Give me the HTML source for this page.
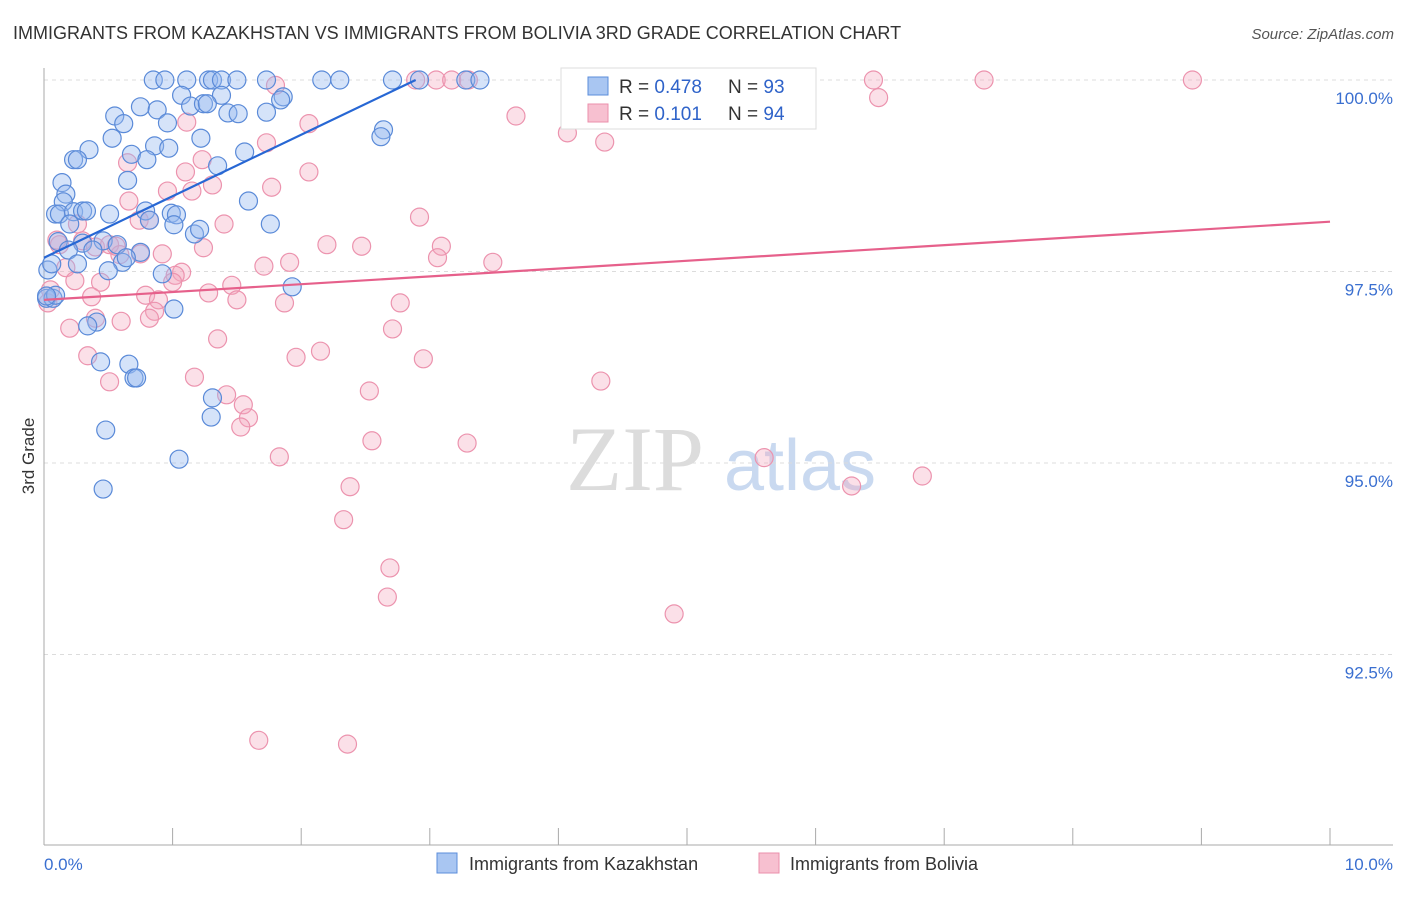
<!DOCTYPE html>
<html><head><meta charset="utf-8"><style>
body{margin:0;background:#fff;font-family:"Liberation Sans",sans-serif;}
</style></head><body>
<svg width="1406" height="892" viewBox="0 0 1406 892" xmlns="http://www.w3.org/2000/svg">
<text x="13" y="39" font-size="18" fill="#333">IMMIGRANTS FROM KAZAKHSTAN VS IMMIGRANTS FROM BOLIVIA 3RD GRADE CORRELATION CHART</text>
<text x="1394" y="39" font-size="15" fill="#555" font-style="italic" text-anchor="end">Source: ZipAtlas.com</text>
<g>
<text x="635" y="490" font-size="92" fill="#dcdcdc" font-family="Liberation Serif,serif" text-anchor="middle">ZIP</text>
<text x="800" y="490" font-size="72" fill="#c9d9f0" text-anchor="middle">atlas</text>
</g>
<g id="grid"></g>
<g id="axes"></g>
<g id="pts"></g>
<g id="trends"></g>
<text transform="translate(34,456) rotate(-90)" font-size="17" fill="#333" text-anchor="middle">3rd Grade</text>
<text x="44" y="870" font-size="17" fill="#3a6fd0">0.0%</text>
<text x="1393" y="870" font-size="17" fill="#3a6fd0" text-anchor="end">10.0%</text>
<g>
<rect x="561" y="68" width="255" height="61" fill="#fff" stroke="#ddd"/>
<rect x="588" y="77" width="20" height="18" fill="#a9c6f2" stroke="#5b8ddb"/>
<rect x="588" y="104" width="20" height="18" fill="#f7c0d0" stroke="#eb8fab"/>
<text x="619" y="93" font-size="19" fill="#333">R = <tspan fill="#2f63c9">0.478</tspan></text>
<text x="728" y="93" font-size="19" fill="#333">N = <tspan fill="#2f63c9">93</tspan></text>
<text x="619" y="120" font-size="19" fill="#333">R = <tspan fill="#2f63c9"> 0.101</tspan></text>
<text x="728" y="120" font-size="19" fill="#333">N = <tspan fill="#2f63c9">94</tspan></text>
</g>
<g>
<rect x="437" y="853" width="20" height="20" fill="#a9c6f2" stroke="#5b8ddb"/>
<text x="469" y="870" font-size="18" fill="#333">Immigrants from Kazakhstan</text>
</g>
<g>
<rect x="759" y="853" width="20" height="20" fill="#f7c0d0" stroke="#eb8fab"/>
<text x="790" y="870" font-size="18" fill="#333">Immigrants from Bolivia</text>
</g>
</svg>
<script>
const yTicks=[100,97.5,95,92.5];
const yTickLabels=["100.0%","97.5%","95.0%","92.5%"];
const xTicks=[0,1,2,3,4,5,6,7,8,9,10];
const blueX=[0.85,0.94,1.11,1.28,1.31,1.38,1.50,1.73,2.16,2.30,2.71,2.92,3.28,3.39,1.07,1.38,1.14,1.24,1.27,0.75,0.88,1.43,1.51,1.73,1.86,1.84,0.55,0.62,0.96,2.64,2.62,0.53,1.22,0.86,0.97,0.35,1.56,0.68,0.23,0.26,0.80,1.35,0.65,0.14,0.17,0.15,1.59,0.09,0.12,0.23,0.30,0.33,0.51,0.79,0.99,1.03,0.82,1.76,1.01,0.20,1.17,1.21,0.11,0.30,0.46,0.57,0.75,0.19,0.38,0.61,0.64,0.26,0.50,0.92,0.03,0.06,0.02,0.07,0.09,1.93,1.01,0.41,0.34,0.66,0.44,0.70,0.72,1.31,1.30,0.48,1.05,0.46,0.02];
const blueY=[100,100,100,100,100,100,100,100,100,100,100,100,100,100,99.80,99.80,99.66,99.69,99.69,99.65,99.61,99.57,99.56,99.58,99.78,99.74,99.53,99.43,99.44,99.35,99.26,99.24,99.24,99.14,99.11,99.09,99.06,99.03,98.96,98.96,98.96,98.88,98.69,98.66,98.51,98.41,98.42,98.25,98.25,98.28,98.29,98.29,98.25,98.29,98.26,98.24,98.17,98.12,98.11,98.12,97.99,98.05,97.89,97.87,97.90,97.85,97.75,97.78,97.78,97.62,97.68,97.60,97.51,97.47,97.52,97.60,97.15,97.15,97.19,97.30,97.01,96.84,96.79,96.29,96.32,96.11,96.11,95.85,95.60,95.43,95.05,94.66,97.18];
const pinkX=[4.10,2.89,3.05,3.17,3.30,5.02,6.45,7.31,8.93,5.56,1.80,6.49,3.67,4.07,4.36,2.06,1.73,1.11,1.23,0.65,1.10,2.06,1.31,1.77,0.96,1.15,0.66,2.92,1.40,0.74,0.82,0.26,0.12,0.10,0.30,0.40,0.51,0.75,0.59,0.56,0.92,2.20,2.47,3.09,3.06,1.24,1.91,3.49,1.71,0.17,1.07,1.02,1.00,1.46,0.24,0.44,0.05,0.79,0.03,0.37,1.28,0.89,1.50,1.87,2.77,0.86,0.40,0.60,0.82,0.20,2.71,1.35,0.34,2.15,1.96,2.95,1.17,0.51,4.33,2.53,1.42,1.55,1.59,1.53,2.55,3.29,1.83,5.60,2.38,6.28,6.83,2.33,2.69,2.67,4.90,1.67,2.36];
const pinkY=[100,100,100,100,100,100,100,100,100,100,99.93,99.77,99.53,99.31,99.19,99.43,99.18,99.45,98.96,98.92,98.80,98.80,98.63,98.60,98.55,98.55,98.42,98.21,98.12,98.17,98.17,98.12,97.85,97.91,97.90,97.82,97.85,97.73,97.72,97.83,97.73,97.85,97.83,97.83,97.68,97.81,97.62,97.62,97.57,97.55,97.49,97.45,97.36,97.32,97.38,97.36,97.26,97.19,97.09,97.17,97.22,97.13,97.13,97.09,97.09,96.98,96.89,96.85,96.89,96.76,96.75,96.62,96.40,96.46,96.38,96.36,96.12,96.06,96.07,95.94,95.89,95.76,95.59,95.47,95.29,95.26,95.08,95.07,94.69,94.70,94.83,94.26,93.63,93.25,93.03,91.38,91.33];
const blueTrend=[0,97.68,2.89,100];
const pinkTrend=[0,97.13,10,98.15];

const NS="http://www.w3.org/2000/svg";
const X=v=>44+v*128.6;
const Y=v=>80+(100-v)*76.6;
function mk(tag,attrs,parent){const e=document.createElementNS(NS,tag);for(const k in attrs)e.setAttribute(k,attrs[k]);parent.appendChild(e);return e;}
const grid=document.getElementById('grid'),axes=document.getElementById('axes'),pts=document.getElementById('pts'),tr=document.getElementById('trends');
yTicks.forEach((t,i)=>{
  const l=mk('line',{x1:44,x2:1393,y1:Y(t),y2:Y(t),stroke:'#dcdcdc','stroke-dasharray':'4,4'},grid);
  
  
  const tx=mk('text',{x:1393,y:Y(t)+24,'font-size':17,fill:'#3a6fd0','text-anchor':'end'},grid);
  tx.textContent=yTickLabels[i];
  
  
});
const ya=mk('line',{x1:44,x2:44,y1:68,y2:845,stroke:'#aaa'},axes);


const xa=mk('line',{x1:44,x2:1393,y1:845,y2:845,stroke:'#aaa'},axes);


xTicks.forEach(t=>{
  const l=mk('line',{x1:X(t),x2:X(t),y1:828,y2:845,stroke:'#aaa'},axes);
  
  
});
pinkX.forEach((v,i)=>{
  const c=mk('circle',{cx:X(v),cy:Y(pinkY[i]),r:9,fill:'rgba(244,165,190,0.35)',stroke:'#ec93ae','stroke-width':1.2},pts);
  
  
});
blueX.forEach((v,i)=>{
  const c=mk('circle',{cx:X(v),cy:Y(blueY[i]),r:9,fill:'rgba(150,186,240,0.4)',stroke:'#5a8ad8','stroke-width':1.2},pts);
  
  
});
const bl=mk('line',{x1:X(blueTrend[0]),y1:Y(blueTrend[1]),x2:X(blueTrend[2]),y2:Y(blueTrend[3]),stroke:'#2767d4','stroke-width':2.2},tr);


const pl=mk('line',{x1:X(pinkTrend[0]),y1:Y(pinkTrend[1]),x2:X(pinkTrend[2]),y2:Y(pinkTrend[3]),stroke:'#e6608b','stroke-width':2.2},tr);


</script>
</body></html>
